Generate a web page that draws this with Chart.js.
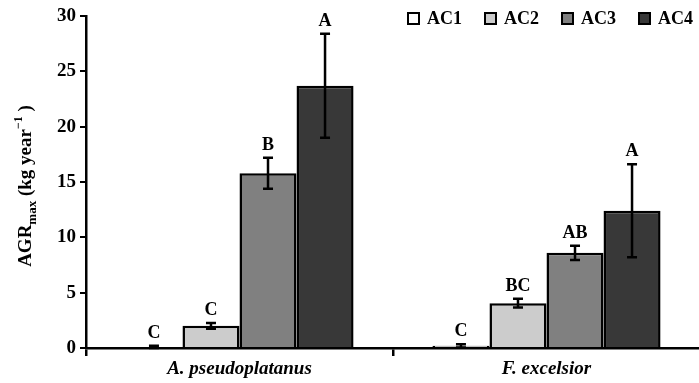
<!DOCTYPE html>
<html>
<head>
<meta charset="utf-8">
<script src="https://cdn.jsdelivr.net/npm/chart.js"></script>
<style>
  html, body { margin: 0; padding: 0; background: #fff; overflow: hidden; }
  #wrap { width: 715px; height: 383px; }
</style>
</head>
<body>
<div id="wrap"><canvas id="agr"></canvas></div>
<script>
    const species = ['A. pseudoplatanus', 'F. excelsior'];
    const classes = ['AC1', 'AC2', 'AC3', 'AC4'];
    const yTicks = [0, 5, 10, 15, 20, 25, 30];

    // mean AGR per age class, one value per species
    const ac1 = [0.1, 0.2];
    const ac2 = [2.0, 4.05];
    const ac3 = [15.8, 8.6];
    const ac4 = [23.7, 12.4];

    // standard errors
    const ac1Err = [0.1, 0.15];
    const ac2Err = [0.25, 0.4];
    const ac3Err = [1.4, 0.65];
    const ac4Err = [4.7, 4.2];

    // significance letters
    const ac1Sig = ['C', 'C'];
    const ac2Sig = ['C', 'BC'];
    const ac3Sig = ['B', 'AB'];
    const ac4Sig = ['A', 'A'];

    const fills = ['#ffffff', '#cccccc', '#808080', '#383838'];
    const serif = "'Liberation Serif', 'Times New Roman', serif";

    const values = [ac1, ac2, ac3, ac4];
    const errors = [ac1Err, ac2Err, ac3Err, ac4Err];
    const letters = [ac1Sig, ac2Sig, ac3Sig, ac4Sig];

    // error bars + letters above each bar
    const errorBars = {
        id: 'errorBars',
        afterDatasetsDraw(chart) {
            const ctx = chart.ctx;
            const y = chart.scales.y;
            ctx.save();
            ctx.strokeStyle = '#000';
            ctx.lineWidth = 2.5;
            ctx.fillStyle = '#000';
            ctx.font = 'bold 18px ' + serif;
            ctx.textAlign = 'center';
            ctx.textBaseline = 'alphabetic';
            chart.data.datasets.forEach((ds, i) => {
                chart.getDatasetMeta(i).data.forEach((bar, j) => {
                    const v = values[i][j], e = errors[i][j];
                    const top = y.getPixelForValue(v + e);
                    const bot = y.getPixelForValue(Math.max(0, v - e));
                    ctx.beginPath();
                    ctx.moveTo(bar.x, top); ctx.lineTo(bar.x, bot);
                    ctx.moveTo(bar.x - 5, top); ctx.lineTo(bar.x + 5, top);
                    ctx.moveTo(bar.x - 5, bot); ctx.lineTo(bar.x + 5, bot);
                    ctx.stroke();
                    ctx.fillText(letters[i][j], bar.x, top - 8);
                });
            });
            ctx.restore();
        }
    };

    // legend inside plot, top right
    const boxLegend = {
        id: 'boxLegend',
        afterDraw(chart) {
            const ctx = chart.ctx;
            ctx.save();
            ctx.font = 'bold 18px ' + serif;
            ctx.textBaseline = 'middle';
            let x = 408;
            const yc = 18;
            chart.data.datasets.forEach(ds => {
                ctx.fillStyle = ds.backgroundColor;
                ctx.fillRect(x, yc - 5, 11, 11);
                ctx.lineWidth = 2;
                ctx.strokeStyle = '#000';
                ctx.strokeRect(x, yc - 5, 11, 11);
                ctx.fillStyle = '#000';
                ctx.fillText(ds.label, x + 19, yc + 1);
                x += 77;
            });
            ctx.restore();
        }
    };

    // rotated y title with subscript / superscript
    const yTitle = {
        id: 'yTitle',
        afterDraw(chart) {
            const ctx = chart.ctx;
            const parts = [
                ['AGR', 'bold 19px ', 0],
                ['max', 'bold 13px ', 5],
                [' (kg year', 'bold 19px ', 0],
                ['\u22121', 'bold 12px ', -9],
                [' )', 'bold 19px ', 0]
            ];
            ctx.save();
            let total = 0;
            parts.forEach(p => { ctx.font = p[1] + serif; total += ctx.measureText(p[0]).width; });
            ctx.translate(31, 186);
            ctx.rotate(-Math.PI / 2);
            ctx.fillStyle = '#000';
            ctx.textBaseline = 'alphabetic';
            let x = -total / 2;
            parts.forEach(p => {
                ctx.font = p[1] + serif;
                ctx.fillText(p[0], x, p[2]);
                x += ctx.measureText(p[0]).width;
            });
            ctx.restore();
        }
    };

    new Chart(document.getElementById('agr'), {
        type: 'bar',
        data: {
            labels: species,
            datasets: classes.map((c, i) => ({
                label: c,
                data: values[i],
                backgroundColor: fills[i],
                borderColor: '#000',
                borderWidth: 2.5,
                barPercentage: 1,
                categoryPercentage: 0.743
            }))
        },
        options: {
            responsive: true,
            maintainAspectRatio: false,
            animation: false,
            layout: { padding: { top: 16, right: 15, left: 0, bottom: 0 } },
            plugins: { legend: { display: false }, tooltip: { enabled: false } },
            scales: {
                x: {
                    afterFit: s => { s.height = 35; },
                    border: { color: '#000', width: 2.5 },
                    grid: { offset: true, drawOnChartArea: false, drawTicks: true, tickLength: 8, color: '#000', lineWidth: 2.5 },
                    ticks: { color: '#000', padding: 2, font: { family: serif, size: 19, weight: 'bold', style: 'italic' } }
                },
                y: {
                    min: 0,
                    max: 30,
                    afterFit: s => { s.width = 86; },
                    afterBuildTicks: s => { s.ticks = yTicks.map(v => ({ value: v })); },
                    border: { color: '#000', width: 2.5 },
                    grid: { drawOnChartArea: false, drawTicks: true, tickLength: 6, color: '#000', lineWidth: 2 },
                    ticks: { color: '#000', padding: 4, font: { family: serif, size: 19, weight: 'bold' } }
                }
            }
        },
        plugins: [errorBars, boxLegend, yTitle]
    });
</script>
</body>
</html>
